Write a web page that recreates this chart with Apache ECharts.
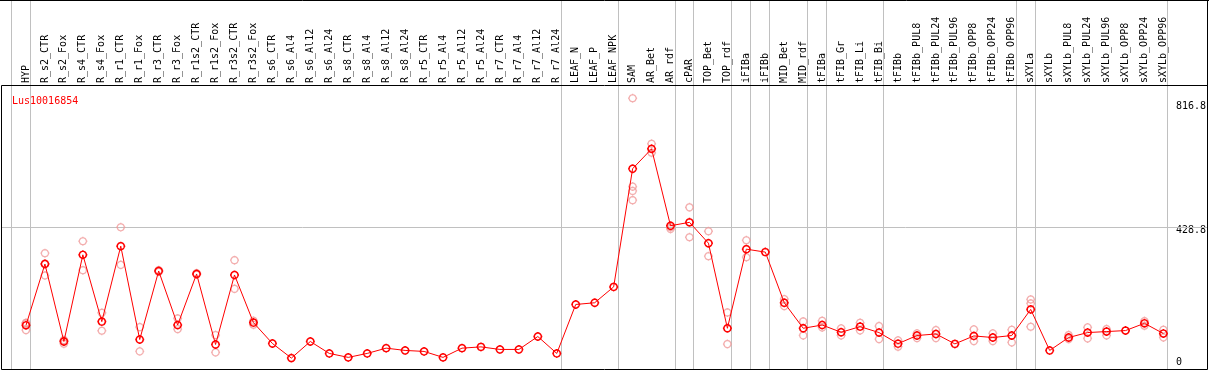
<!DOCTYPE html>
<html>
<head>
<meta charset="utf-8">
<style>html,body{margin:0;padding:0;background:#fff}#c{width:1209px;height:370px}</style>
<script src="https://cdn.jsdelivr.net/npm/echarts@6/dist/echarts.min.js"></script>
</head>
<body>
<div id="c"></div>
<script>
const geneName = 'Lus10016854';
const categories = ['HYP','R_s2_CTR','R_s2_Fox','R_s4_CTR','R_s4_Fox','R_r1_CTR','R_r1_Fox','R_r3_CTR','R_r3_Fox','R_r1s2_CTR','R_r1s2_Fox','R_r3s2_CTR','R_r3s2_Fox','R_s6_CTR','R_s6_Al4','R_s6_Al12','R_s6_Al24','R_s8_CTR','R_s8_Al4','R_s8_Al12','R_s8_Al24','R_r5_CTR','R_r5_Al4','R_r5_Al12','R_r5_Al24','R_r7_CTR','R_r7_Al4','R_r7_Al12','R_r7_Al24','LEAF_N','LEAF_P','LEAF_NPK','SAM','AR_Bet','AR_rdf','cPAR','TOP_Bet','TOP_rdf','iFIBa','iFIBb','MID_Bet','MID_rdf','tFIBa','tFIB_Gr','tFIB_Li','tFIB_Bi','tFIBb','tFIBb_PUL8','tFIBb_PUL24','tFIBb_PUL96','tFIBb_OPP8','tFIBb_OPP24','tFIBb_OPP96','sXYLa','sXYLb','sXYLb_PUL8','sXYLb_PUL24','sXYLb_PUL96','sXYLb_OPP8','sXYLb_OPP24','sXYLb_OPP96'];
const meanValues = [134.3,318.5,85.7,346.2,145.4,372.2,91.6,297.6,135.2,288.6,76.7,285.6,142.4,79.7,35.8,85.7,49.8,37.9,49.8,65.7,58.8,55.8,37.9,65.7,69.5,61.8,61.8,100.6,49.8,197.0,202.1,249.8,605.0,664.7,433.7,443.8,381.1,125.4,363.2,354.3,202.1,125.4,135.2,113.4,130.4,112.5,79.1,103.6,108.3,78.5,102.4,97.6,103.6,182.1,58.8,97.6,112.5,115.5,118.5,140.3,109.5];
const replicateValues = [
  [142,120,140],[351,284,320],[90,79,88],[387,300],[172,118],[429,316],[129,56],[300,295],[155,123],[291,287],
  [105,53],[330,244],[148,136],[],[],[],[],[],[],[],
  [],[],[],[],[],[],[],[],[],[],
  [],[],[816.8,551.3,538.2,510.4],[680,653],[429,424],[489,399],[417,342],[173,78],[390,339],[],
  [213,192],[146,104],[148,128],[125,104],[142,119],[132,93],[89,70],[110,96],[120,96],[],
  [122,87],[110,87],[121,83],[212,200,130],[],[105,93],[128,95],[123,104],[],[133,147],
  [121,98]
];
const yTickValues = [0, 428.8, 816.8];
const yTickLabels = ['0', '428.8', '816.8'];
const refLineValue = 428.8;
const separatorAfter = [-1,0,28,31,34,35,37,38,39,41,42,45,52,53,60];

const FONT = '"DejaVu Sans Mono", "Liberation Mono", monospace';

function buildMarker() {
  const cx = 5, cy = 5, r = 3.9, n = 32;
  let d = '';
  for (let k = 0; k <= n; k++) {
    const a = (k / n) * Math.PI * 2;
    const px = (cx + r * Math.cos(a)).toFixed(3), py = (cy + r * Math.sin(a)).toFixed(3);
    d += (k === 0 ? 'M' : 'L') + px + ',' + py + ' ';
  }
  d += 'Z M5,0L5,1.1 M5,8.9L5,10 M0,5L1.1,5 M8.9,5L10,5';
  return 'path://' + d;
}
const markerPath = buildMarker();

const repData = [];
replicateValues.forEach((arr, i) => arr.forEach(v => repData.push([i, v])));

const chart = echarts.init(document.getElementById('c'), null, {renderer: 'canvas'});
const labelOffsets = {'0': 'z', '428.8': 'm', '816.8': 't'};
chart.setOption({
  animation: false,
  backgroundColor: '#fff',
  title: {
    text: geneName, left: 7, top: 91,
    textStyle: {color: '#ff0000', fontFamily: FONT, fontSize: 10, fontWeight: 'normal'}
  },
  grid: {left: 16.5, right: 33.5, top: 85, height: 287, containLabel: false},
  xAxis: {
    type: 'category', position: 'top', data: categories, boundaryGap: true,
    axisLine: {show: false}, axisTick: {show: false}, splitLine: {show: false},
    axisLabel: {interval: 0, rotate: 90, margin: 2, color: '#000', fontFamily: FONT, fontSize: 10}
  },
  yAxis: {
    type: 'value', position: 'right', min: 0, max: 856.6,
    axisLine: {show: false}, axisTick: {show: false}, splitLine: {show: false},
    axisLabel: {
      customValues: yTickValues, margin: 3, color: '#000', fontFamily: FONT, fontSize: 10,
      formatter: v => {
        const idx = yTickValues.indexOf(v);
        const s = idx >= 0 ? yTickLabels[idx] : String(v);
        return '{' + (labelOffsets[s] || 'm') + '|' + s + '}';
      },
      rich: {
        z: {padding: [0, 0, 15, 0], fontFamily: FONT, fontSize: 10, color: '#000'},
        m: {padding: [7, 0, 0, 0], fontFamily: FONT, fontSize: 10, color: '#000'},
        t: {padding: [17, 0, 0, 0], fontFamily: FONT, fontSize: 10, color: '#000'}
      }
    }
  },
  series: [
    {
      type: 'scatter', data: repData, symbol: markerPath, symbolSize: 9, z: 3,
      itemStyle: {color: 'rgba(0,0,0,0)', borderColor: '#f09a9a', borderWidth: 1.3},
      silent: true
    },
    {
      type: 'line', data: meanValues, symbol: markerPath, symbolSize: 9, showSymbol: true, z: 4,
      lineStyle: {color: '#ff0000', width: 1},
      itemStyle: {color: 'rgba(0,0,0,0)', borderColor: '#ff0000', borderWidth: 1.5},
      silent: true
    }
  ]
});

function drawDecor() {
  const x0 = chart.convertToPixel({xAxisIndex: 0}, 0);
  const band = chart.convertToPixel({xAxisIndex: 0}, 1) - x0;
  const yRef = Math.floor(chart.convertToPixel({yAxisIndex: 0}, refLineValue)) + 0.5;
  const els = [];
  separatorAfter.forEach(i => {
    const x = Math.floor(x0 + band * i + 4.5) + 0.5;
    els.push({type: 'line', z: 1, silent: true, shape: {x1: x, y1: 0, x2: x, y2: 369}, style: {stroke: '#c0c0c0', lineWidth: 1}});
  });
  els.push({type: 'line', z: 1, silent: true, shape: {x1: 1, y1: yRef, x2: 1207, y2: yRef}, style: {stroke: '#c0c0c0', lineWidth: 1}});
  els.push({type: 'rect', z: 10, silent: true, shape: {x: 1.5, y: 85.5, width: 1206, height: 284}, style: {fill: 'none', stroke: '#000', lineWidth: 1}});
  els.push({type: 'line', z: 10, silent: true, shape: {x1: 0, y1: 0.5, x2: 1209, y2: 0.5}, style: {stroke: '#000', lineWidth: 1}});
  els.push({type: 'line', z: 10, silent: true, shape: {x1: 1207.5, y1: 0, x2: 1207.5, y2: 86}, style: {stroke: '#000', lineWidth: 1}});
  chart.setOption({graphic: {elements: els}});
}
drawDecor();
</script>
</body>
</html>
